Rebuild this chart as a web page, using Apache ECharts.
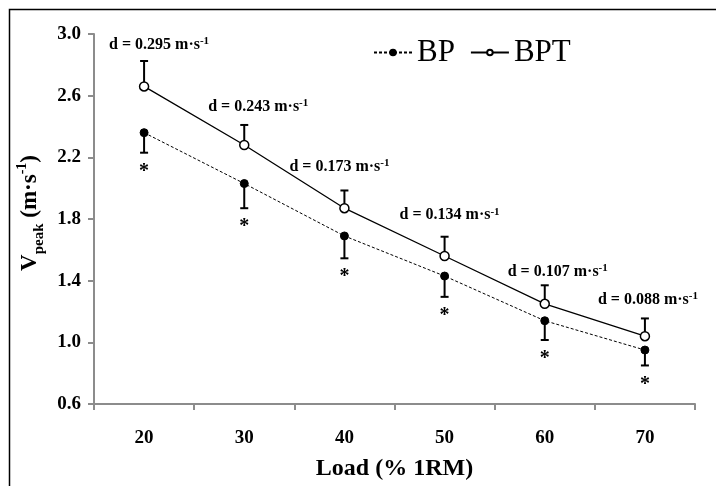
<!DOCTYPE html>
<html><head><meta charset="utf-8">
<script src="https://cdn.jsdelivr.net/npm/echarts@6/dist/echarts.min.js"></script>
<style>html,body{margin:0;padding:0;background:#fff}#c{width:716px;height:486px}</style>
</head><body><div id="c"></div>
<script>
var categories = ['20', '30', '40', '50', '60', '70'];
var bpMean  = [2.36, 2.03, 1.69, 1.43, 1.14, 0.95];
var bpSD    = [0.13, 0.16, 0.145, 0.135, 0.125, 0.10];
var bptMean = [2.66, 2.28, 1.87, 1.56, 1.25, 1.04];
var bptSD   = [0.165, 0.13, 0.115, 0.125, 0.12, 0.115];
var dValues = ['0.295', '0.243', '0.173', '0.134', '0.107', '0.088'];
var yTicks  = {min: 0.6, max: 3.0, interval: 0.4};

// layout-only offsets (px) for the effect-size labels, relative to the top of each BPT error bar
var labelDx = [15, 14, -5, 5, 13, 3];
var labelDy = [-17, -19, -24, -22, -14, -19];

var SERIF = '"Liberation Serif","Times New Roman",serif';

function errItem(dir, withStar, withLabel) {
  return function (params, api) {
    var i = api.value(0), m = api.value(1), sd = api.value(2);
    var p0 = api.coord([i, m]);
    var p1 = api.coord([i, m + dir * sd]);
    var cap = 4;
    var children = [
      {type: 'line', shape: {x1: p0[0], y1: p0[1], x2: p1[0], y2: p1[1]}, style: {stroke: '#000', lineWidth: 2}},
      {type: 'line', shape: {x1: p1[0] - cap, y1: p1[1], x2: p1[0] + cap, y2: p1[1]}, style: {stroke: '#000', lineWidth: 2}}
    ];
    if (withStar) {
      children.push({type: 'text', style: {x: p1[0], y: p1[1] + 19, text: '*', fill: '#000',
        font: 'bold 20px ' + SERIF, align: 'center', verticalAlign: 'middle'}});
    }
    if (withLabel) {
      var idx = params.dataIndex;
      children.push({type: 'text', z2: 10, style: {x: p1[0] + labelDx[idx], y: p1[1] + labelDy[idx],
        text: '{n|d = ' + dValues[idx] + ' m·s}{s|-1}', align: 'center', verticalAlign: 'middle',
        rich: {
          n: {font: 'bold 16px ' + SERIF, fill: '#000', verticalAlign: 'bottom', lineHeight: 17},
          s: {font: 'bold 11px ' + SERIF, fill: '#000', verticalAlign: 'top', lineHeight: 17, padding: [0, 0, 6, 0]}
        }}});
    }
    return {type: 'group', children: children};
  };
}

var chart = echarts.init(document.getElementById('c'), null, {renderer: 'canvas'});
chart.setOption({
  animation: false,
  backgroundColor: '#fff',
  grid: {left: 94, right: 21, top: 34, bottom: 73, containLabel: false},
  graphic: [{type: 'rect', shape: {x: 9.5, y: 9.5, width: 720, height: 500},
    style: {fill: 'none', stroke: '#000', lineWidth: 1.5}, z: -10}],
  legend: {
    left: 368, top: 32, itemGap: 15, itemWidth: 38, itemHeight: 7,
    textStyle: {fontFamily: SERIF, fontSize: 31, color: '#000'},
    data: ['BP', 'BPT']
  },
  xAxis: {
    type: 'category', data: categories, boundaryGap: true,
    name: 'Load (% 1RM)', nameLocation: 'middle', nameGap: 53,
    nameTextStyle: {fontFamily: SERIF, fontWeight: 'bold', fontSize: 24, color: '#000'},
    axisLine: {lineStyle: {color: '#8c8c8c', width: 2}},
    axisTick: {show: true, length: 6, lineStyle: {color: '#8c8c8c', width: 2}},
    axisLabel: {fontFamily: SERIF, fontWeight: 'bold', fontSize: 19, color: '#000', margin: 25},
    splitLine: {show: false}
  },
  yAxis: {
    type: 'value', min: yTicks.min, max: yTicks.max, interval: yTicks.interval,
    name: '{v|V}{p|peak}{v| (m·s}{s|-1}{v|)}', nameLocation: 'middle', nameGap: 46, nameRotate: 90,
    nameTextStyle: {
      padding: [0, 0, 0, 12],
      rich: {
        v: {fontFamily: SERIF, fontWeight: 'bold', fontSize: 23, color: '#000', verticalAlign: 'bottom', lineHeight: 26},
        p: {fontFamily: SERIF, fontWeight: 'bold', fontSize: 15, color: '#000', verticalAlign: 'bottom', lineHeight: 26, padding: [0, 0, -5, 0]},
        s: {fontFamily: SERIF, fontWeight: 'bold', fontSize: 14, color: '#000', verticalAlign: 'top', lineHeight: 26, padding: [0, 0, 8, 0]}
      }
    },
    axisLine: {show: true, lineStyle: {color: '#8c8c8c', width: 2}},
    axisTick: {show: true, length: 6, lineStyle: {color: '#8c8c8c', width: 2}},
    axisLabel: {fontFamily: SERIF, fontWeight: 'bold', fontSize: 19, color: '#000', margin: 13,
      formatter: function (v) { return v.toFixed(1); }},
    splitLine: {show: false}
  },
  series: [
    {name: 'BP', type: 'line', data: bpMean, symbol: 'circle', symbolSize: 8,
      itemStyle: {color: '#000', borderColor: '#000', borderWidth: 1},
      lineStyle: {color: '#000', width: 1, type: [3, 2]}, z: 3},
    {name: 'BPT', type: 'line', data: bptMean, symbol: 'circle', symbolSize: 9,
      itemStyle: {color: '#fff', borderColor: '#000', borderWidth: 1.5},
      lineStyle: {color: '#000', width: 1.3, type: 'solid'}, z: 3},
    {name: 'BP err', type: 'custom', renderItem: errItem(-1, true, false), z: 2,
      data: bpMean.map(function (m, i) { return [i, m, bpSD[i]]; })},
    {name: 'BPT err', type: 'custom', renderItem: errItem(1, false, true), z: 2,
      data: bptMean.map(function (m, i) { return [i, m, bptSD[i]]; })}
  ]
});
</script></body></html>
